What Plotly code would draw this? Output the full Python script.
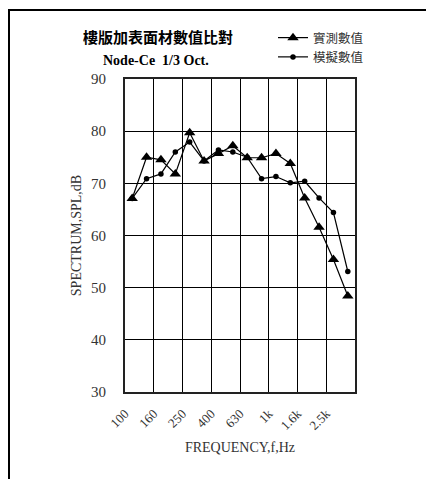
import plotly.graph_objects as go

# 1/3-octave band centres (Hz) and the two spectra (dB)
bands = ["100", "125", "160", "200", "250", "315", "400", "500",
         "630", "800", "1k", "1.25k", "1.6k", "2k", "2.5k", "3.15k"]
measured = [67.1, 75.0, 74.5, 71.8, 79.7, 74.3, 75.7, 77.2,
            74.9, 74.9, 75.7, 73.8, 67.2, 61.6, 55.4, 48.4]
simulated = [67.1, 70.9, 71.8, 76.0, 77.9, 74.3, 76.4, 76.0,
             75.0, 70.9, 71.3, 70.1, 70.4, 67.2, 64.4, 53.1]
tick_labels = ["100", "160", "250", "400", "630", "1k", "1.6k", "2.5k", ""]

measured_name = "實測數值"
simulated_name = "模擬數值"
title_lines = ["樓版加表面材數值比對", "Node-Ce  1/3 Oct."]
x_title = "FREQUENCY,f,Hz"
y_title = "SPECTRUM,SPL,dB"

xs = list(range(len(bands)))
# gridlines and labels fall on band boundaries, every second band
grid_pos = [i - 0.5 for i in range(0, len(bands) + 1, 2)]

SERIF = "Liberation Serif, Times New Roman, Noto Sans CJK TC, serif"
CJK = "Noto Sans CJK TC, sans-serif"

W, H = 426, 479
L, R, T, B = 125, 71, 79, 87


def px_x(p):
    return (p - L) / (W - L - R)


def px_y(p):
    return (H - B - p) / (H - T - B)


fig = go.Figure()
fig.add_trace(go.Scatter(
    x=xs, y=measured, name=measured_name, mode="lines+markers",
    line=dict(color="black", width=1.2),
    marker=dict(symbol="triangle-up", size=10, color="black"),
))
fig.add_trace(go.Scatter(
    x=xs, y=simulated, name=simulated_name, mode="lines+markers",
    line=dict(color="black", width=1.2),
    marker=dict(symbol="circle", size=5.5, color="black"),
))

fig.update_layout(
    width=W, height=H,
    margin=dict(l=L, r=R, t=T, b=B),
    paper_bgcolor="white", plot_bgcolor="white",
    showlegend=True,
    legend=dict(
        x=px_x(273), y=px_y(23),
        xanchor="left", yanchor="top",
        font=dict(family=CJK, size=12.5, color="#333"),
        bgcolor="rgba(0,0,0,0)", itemwidth=30, tracegroupgap=0,
    ),
    xaxis=dict(
        range=[-0.5, len(bands) - 0.5],
        tickmode="array", tickvals=grid_pos, ticktext=tick_labels,
        tickangle=-45, ticks="outside", ticklen=7, tickcolor="white",
        tickfont=dict(family=SERIF, size=13, color="#333"),
        showgrid=True, gridcolor="black", gridwidth=1,
        showline=True, linecolor="#222", linewidth=2, mirror=True,
        zeroline=False,
        title=dict(text=x_title, font=dict(family=SERIF, size=14, color="#333"),
                   standoff=10),
    ),
    yaxis=dict(
        range=[30, 90], tickmode="linear", tick0=30, dtick=10,
        ticks="outside", ticklen=14, tickcolor="white",
        tickfont=dict(family=SERIF, size=15, color="#333"),
        showgrid=True, gridcolor="black", gridwidth=1,
        showline=True, linecolor="#222", linewidth=2, mirror=True,
        zeroline=False,
        title=dict(text=y_title, font=dict(family=SERIF, size=14, color="#333"),
                   standoff=6),
    ),
)

# two-line bold title
fig.add_annotation(
    text="<b>" + title_lines[0] + "</b>", xref="paper", yref="paper",
    x=px_x(158), y=px_y(37),
    showarrow=False, xanchor="center", yanchor="middle",
    font=dict(family=SERIF, size=15, color="black"),
)
fig.add_annotation(
    text="<b>" + title_lines[1] + "</b>", xref="paper", yref="paper",
    x=px_x(156), y=px_y(61),
    showarrow=False, xanchor="center", yanchor="middle",
    font=dict(family=SERIF, size=14, color="black"),
)

# outer frame: top and left edges
fig.add_shape(type="line", xref="paper", yref="paper",
              x0=px_x(8), x1=px_x(426), y0=px_y(10), y1=px_y(10),
              line=dict(color="black", width=2))
fig.add_shape(type="line", xref="paper", yref="paper",
              x0=px_x(9), x1=px_x(9), y0=px_y(10), y1=px_y(480),
              line=dict(color="black", width=2))

fig.write_html("out.html")
